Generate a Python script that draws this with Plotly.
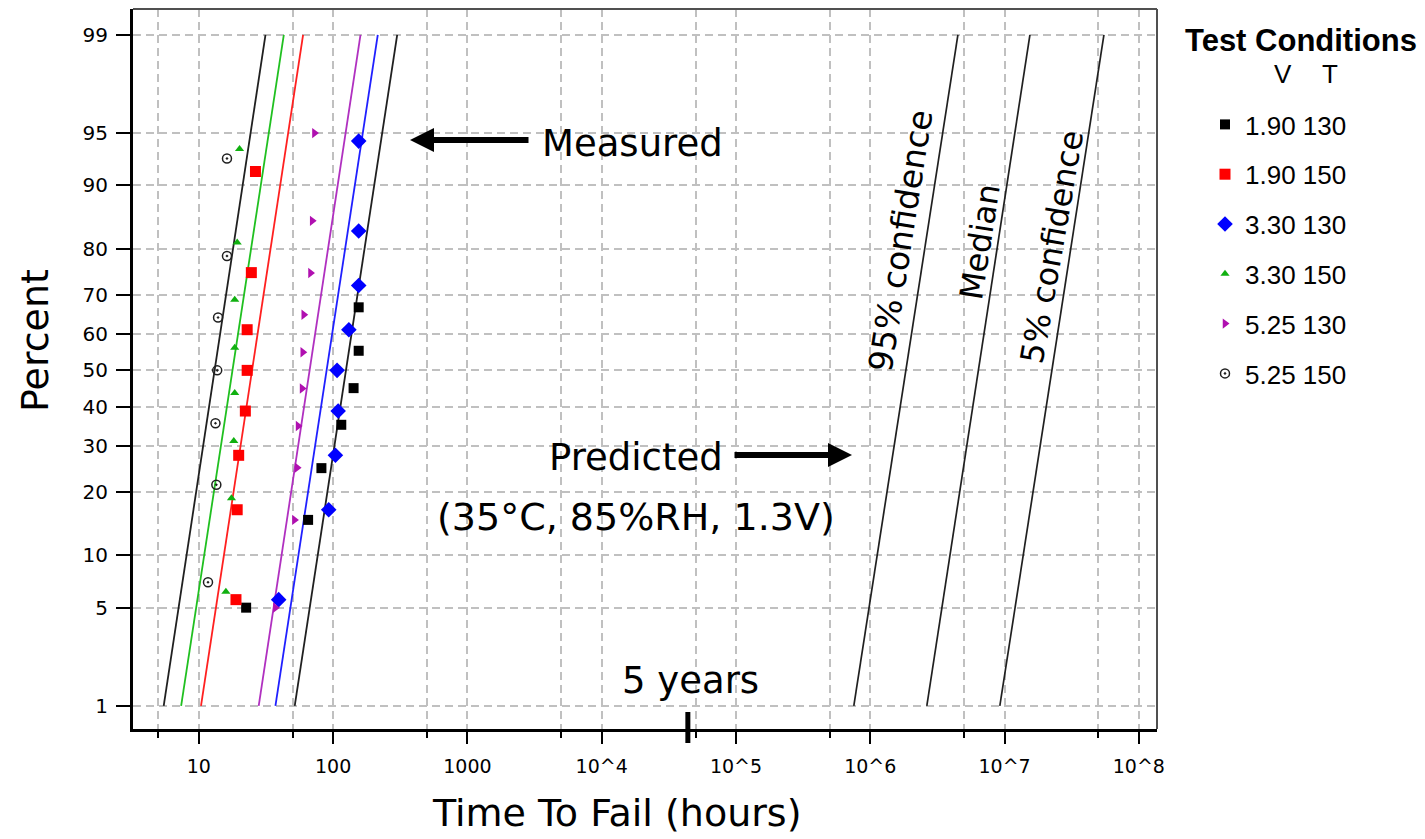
import math
from statistics import NormalDist
import plotly.graph_objects as go

# ---------------- data ----------------
conditions = ["1.90 130", "1.90 150", "3.30 130", "3.30 150", "5.25 130", "5.25 150"]

t_190_130 = [22.5, 65.1, 81.8, 115, 142, 155, 155]
p_190_130 = [5.0, 15.0, 24.9, 35.3, 45.1, 55.4, 66.9]

t_190_150 = [18.9, 19.3, 19.8, 22.2, 22.9, 22.9, 24.6, 26.4]
p_190_150 = [5.6, 16.7, 27.8, 38.9, 50.0, 61.1, 75.1, 91.6]

t_330_130 = [39.3, 92.7, 104, 109, 107, 131, 155, 155, 155]
p_330_130 = [5.6, 16.7, 27.8, 38.9, 50.0, 61.1, 72.2, 83.3, 94.4]

t_330_150 = [15.9, 17.5, 18.2, 18.5, 18.5, 18.5, 19.3, 20.1]
p_330_150 = [6.25, 18.75, 31.25, 43.75, 56.25, 68.75, 81.25, 93.75]

t_525_130 = [37.2, 51.5, 53.9, 54.8, 58.7, 59.4, 60.4, 67.8, 69.8, 72.6]
p_525_130 = [5, 15, 25, 35, 45, 55, 65, 75, 85, 95]

t_525_150 = [11.7, 13.5, 13.3, 13.7, 13.9, 16.2, 16.2]
p_525_150 = [7.1, 21.4, 35.7, 50.0, 64.3, 78.6, 92.9]

# lognormal fits: median hours and sigma (log10 units)
fit_median = [124.6, 24.9, 89.4, 17.8, 66.8, 13.1]
fit_sigma = [0.164, 0.1634, 0.1638, 0.1643, 0.1629, 0.1629]

# predicted at use conditions (35C, 85%RH, 1.3V)
pred_labels = ["95% confidence", "Median", "5% confidence"]
pred_median = [1.84e6, 6.38e6, 2.25e7]
pred_sigma = [0.1666, 0.165, 0.1666]

line_pct = [1, 99]
pct_ticks = [1, 5, 10, 20, 30, 40, 50, 60, 70, 80, 90, 95, 99]
x_ticks = [10, 100, 1000, 1e4, 1e5, 1e6, 1e7, 1e8]
x_ticktext = ["10", "100", "1000", "10^4", "10^5", "10^6", "10^7", "10^8"]
x_minor = [5, 50, 500, 5e3, 5e4, 5e5, 5e6, 5e7]
five_years_hours = 5 * 8760

# ---------------- helpers ----------------
nd = NormalDist()


def zq(p):
    return nd.inv_cdf(p / 100.0)


W, H = 1425, 839
L, R, T, B = 133, 1157, 9, 729  # plot area in pixels
XR = [0.5097, 8.135]
YR = [-2.486, 2.505]


def px(X):
    return (X - L) / (R - L)


def py(Y):
    return (B - Y) / (B - T)


series_t = [t_190_130, t_190_150, t_330_130, t_330_150, t_525_130, t_525_150]
series_p = [p_190_130, p_190_150, p_330_130, p_330_150, p_525_130, p_525_150]
mcolor = ["#000000", "#ff0000", "#0000ff", "#10b010", "#b010b0", "#202020"]
lcolor = ["#202020", "#ff2020", "#2020ff", "#20c020", "#b030c0", "#202020"]
msym = ["square", "square", "diamond", "triangle-up", "triangle-right", "circle-open-dot"]
msize = [10, 11, 12, 8, 9, 9]

fig = go.Figure()

# fitted lines
for i in range(6):
    xs = [10 ** (math.log10(fit_median[i]) + fit_sigma[i] * zq(p)) for p in line_pct]
    ys = [zq(p) for p in line_pct]
    fig.add_trace(go.Scatter(x=xs, y=ys, mode="lines", showlegend=False,
                             line=dict(color=lcolor[i], width=1.8), hoverinfo="skip"))

# predicted lines
for i in range(3):
    xs = [10 ** (math.log10(pred_median[i]) + pred_sigma[i] * zq(p)) for p in line_pct]
    ys = [zq(p) for p in line_pct]
    fig.add_trace(go.Scatter(x=xs, y=ys, mode="lines", showlegend=False,
                             line=dict(color="#202020", width=1.7), hoverinfo="skip"))

# measured points
for i in range(6):
    fig.add_trace(go.Scatter(
        x=series_t[i], y=[zq(p) for p in series_p[i]], mode="markers",
        name=conditions[i], legendgroup=conditions[i],
        marker=dict(symbol=msym[i], size=msize[i], color=mcolor[i],
                    line=dict(width=1.5 if i == 5 else 0, color=mcolor[i]))))

grid = dict(gridcolor="#c0c0c0", griddash="8px,5px", gridwidth=1.5)
fig.update_layout(
    width=W, height=H,
    margin=dict(l=L, r=W - R, t=T, b=H - B),
    paper_bgcolor="white", plot_bgcolor="white",
    font=dict(family="DejaVu Sans", color="black"),
    xaxis=dict(type="log", range=XR, tickmode="array", tickvals=x_ticks, ticktext=x_ticktext,
               ticks="outside", ticklen=12, tickwidth=1.5, tickcolor="black",
               tickfont=dict(size=19, family="DejaVu Sans"), ticklabelstandoff=6,
               showgrid=True, **grid,
               minor=dict(tickmode="array", tickvals=x_minor, ticks="outside", ticklen=6,
                          tickwidth=1.5, tickcolor="black", showgrid=True, **grid),
               showline=True, linewidth=3, linecolor="black", mirror=False, zeroline=False),
    yaxis=dict(range=YR, tickmode="array", tickvals=[zq(p) for p in pct_ticks],
               ticktext=[str(p) for p in pct_ticks],
               ticks="outside", ticklen=14, tickwidth=1.5, tickcolor="black",
               tickfont=dict(size=20), ticklabelstandoff=4,
               showgrid=True, **grid,
               showline=True, linewidth=3, linecolor="black", mirror=False, zeroline=False),
    legend=dict(x=px(1205), y=py(101), xanchor="left", yanchor="top",
                font=dict(family="Liberation Sans", size=26), tracegroupgap=13,
                bgcolor="rgba(0,0,0,0)", itemwidth=30),
    showlegend=True,
)

# thinner grey frame on top and right
fig.add_shape(type="line", xref="paper", yref="paper", x0=0, x1=1, y0=1, y1=1,
              line=dict(color="#505050", width=2))
fig.add_shape(type="line", xref="paper", yref="paper", x0=1, x1=1, y0=0, y1=1,
              line=dict(color="#505050", width=2))

ann = []


def text(X, Y, s, size, angle=0, family="DejaVu Sans", bold=False):
    ann.append(dict(x=px(X), y=py(Y), xref="paper", yref="paper", text=("<b>%s</b>" % s) if bold else s,
                    showarrow=False, xanchor="center", yanchor="middle", textangle=angle,
                    font=dict(size=size, family=family, color="black")))


text(35, 341, "Percent", 38, angle=-90)
text(617, 813, "Time To Fail (hours)", 38)
text(632, 143, "Measured", 37)
text(636, 457, "Predicted", 37)
text(636, 517, "(35°C, 85%RH, 1.3V)", 38)
text(690, 680, "5 years", 37)
text(901, 241, pred_labels[0], 33, angle=-81)
text(980, 242, pred_labels[1], 32, angle=-81)
text(1052, 247, pred_labels[2], 32, angle=-80)
text(1301, 41, "Test Conditions", 31, family="Liberation Sans", bold=True)
text(1283, 74, "V", 26, family="Liberation Sans")
text(1330, 74, "T", 26, family="Liberation Sans")

# arrows
ann.append(dict(x=px(410), y=py(140), xref="paper", yref="paper", text="", showarrow=True,
                ax=120, ay=0, arrowhead=2, arrowsize=0.8, arrowwidth=6, arrowcolor="black"))
ann.append(dict(x=px(852), y=py(455), xref="paper", yref="paper", text="", showarrow=True,
                ax=-119, ay=0, arrowhead=2, arrowsize=0.8, arrowwidth=6, arrowcolor="black"))
fig.update_layout(annotations=ann)

# 5-year marker bar on the time axis
x5 = (math.log10(five_years_hours) - XR[0]) / (XR[1] - XR[0])
fig.add_shape(type="line", xref="paper", yref="paper", x0=x5, x1=x5, y0=py(712), y1=py(743),
              line=dict(color="black", width=5))

fig.write_html("out.html")
